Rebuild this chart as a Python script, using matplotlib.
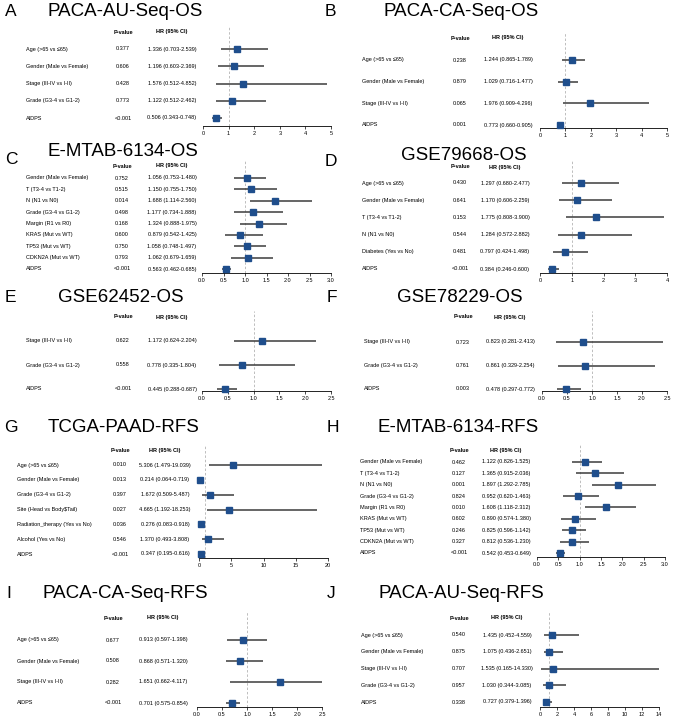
import numpy as np
import matplotlib.pyplot as plt

plt.rcParams['font.family'] = ['Liberation Sans', 'DejaVu Sans']

W, H = 673, 718

# ---- data: one block per cohort ----
a_labels = ['Age (>65 vs ≤65)', 'Gender (Male vs Female)', 'Stage (III-IV vs I-II)',
            'Grade (G3-4 vs G1-2)', 'AIDPS']
a_p = ['0.377', '0.606', '0.428', '0.773', '<0.001']
a_hr = [1.336, 1.196, 1.576, 1.122, 0.506]
a_lo = [0.703, 0.603, 0.512, 0.512, 0.343]
a_hi = [2.539, 2.369, 4.852, 2.462, 0.748]

b_labels = ['Age (>65 vs ≤65)', 'Gender (Male vs Female)', 'Stage (III-IV vs I-II)', 'AIDPS']
b_p = ['0.238', '0.879', '0.065', '0.001']
b_hr = [1.244, 1.029, 1.976, 0.773]
b_lo = [0.865, 0.716, 0.909, 0.660]
b_hi = [1.789, 1.477, 4.296, 0.905]

c_labels = ['Gender (Male vs Female)', 'T (T3-4 vs T1-2)', 'N (N1 vs N0)', 'Grade (G3-4 vs G1-2)',
            'Margin (R1 vs R0)', 'KRAS (Mut vs WT)', 'TP53 (Mut vs WT)', 'CDKN2A (Mut vs WT)', 'AIDPS']
c_p = ['0.752', '0.515', '0.014', '0.498', '0.168', '0.600', '0.750', '0.793', '<0.001']
c_hr = [1.056, 1.150, 1.688, 1.177, 1.324, 0.879, 1.058, 1.062, 0.563]
c_lo = [0.753, 0.755, 1.114, 0.734, 0.888, 0.542, 0.748, 0.679, 0.462]
c_hi = [1.480, 1.750, 2.560, 1.888, 1.975, 1.425, 1.497, 1.659, 0.685]

d_labels = ['Age (>65 vs ≤65)', 'Gender (Male vs Female)', 'T (T3-4 vs T1-2)', 'N (N1 vs N0)',
            'Diabetes (Yes vs No)', 'AIDPS']
d_p = ['0.430', '0.641', '0.153', '0.544', '0.481', '<0.001']
d_hr = [1.297, 1.170, 1.775, 1.284, 0.797, 0.384]
d_lo = [0.680, 0.606, 0.808, 0.572, 0.424, 0.246]
d_hi = [2.477, 2.259, 3.900, 2.882, 1.498, 0.600]

e_labels = ['Stage (III-IV vs I-II)', 'Grade (G3-4 vs G1-2)', 'AIDPS']
e_p = ['0.622', '0.558', '<0.001']
e_hr = [1.172, 0.778, 0.445]
e_lo = [0.624, 0.335, 0.288]
e_hi = [2.204, 1.804, 0.687]

f_labels = ['Stage (III-IV vs I-II)', 'Grade (G3-4 vs G1-2)', 'AIDPS']
f_p = ['0.723', '0.761', '0.003']
f_hr = [0.823, 0.861, 0.478]
f_lo = [0.281, 0.329, 0.297]
f_hi = [2.413, 2.254, 0.772]

g_labels = ['Age (>65 vs ≤65)', 'Gender (Male vs Female)', 'Grade (G3-4 vs G1-2)',
            'Site (Head vs Body$Tail)', 'Radiation_therapy (Yes vs No)', 'Alcohol (Yes vs No)', 'AIDPS']
g_p = ['0.010', '0.013', '0.397', '0.027', '0.036', '0.546', '<0.001']
g_hr = [5.306, 0.214, 1.672, 4.665, 0.276, 1.370, 0.347]
g_lo = [1.479, 0.064, 0.509, 1.192, 0.083, 0.493, 0.195]
g_hi = [19.039, 0.719, 5.487, 18.253, 0.918, 3.808, 0.616]

h_labels = c_labels
h_p = ['0.462', '0.127', '0.001', '0.824', '0.010', '0.602', '0.246', '0.327', '<0.001']
h_hr = [1.122, 1.365, 1.897, 0.952, 1.608, 0.890, 0.825, 0.812, 0.542]
h_lo = [0.826, 0.915, 1.292, 0.620, 1.118, 0.574, 0.596, 0.536, 0.453]
h_hi = [1.525, 2.036, 2.785, 1.463, 2.312, 1.380, 1.142, 1.230, 0.649]

i_labels = ['Age (>65 vs ≤65)', 'Gender (Male vs Female)', 'Stage (III-IV vs I-II)', 'AIDPS']
i_p = ['0.677', '0.508', '0.282', '<0.001']
i_hr = [0.913, 0.868, 1.651, 0.701]
i_lo = [0.597, 0.571, 0.662, 0.575]
i_hi = [1.398, 1.320, 4.117, 0.854]

j_labels = a_labels
j_p = ['0.540', '0.875', '0.707', '0.957', '0.338']
j_hr = [1.435, 1.075, 1.535, 1.030, 0.727]
j_lo = [0.452, 0.436, 0.165, 0.344, 0.379]
j_hi = [4.559, 2.651, 14.330, 3.085, 1.396]

BLUE = '#1f4e8c'
LINE = '#3c3c3c'
SMALL = 4.0

fig = plt.figure(figsize=(W / 100, H / 100), dpi=100)


def fx(px):
    return px / W


def fy(py):
    return 1 - py / H


# geo: letter xy, title xy, label/p/hr columns, header y, first/last row y, axis y, axis x0/x1 (pixels)
def forest(letter, title, labels, pv, hr, lo, hi, ticks, fmt, geo):
    (lx, ly), (tx, ty) = geo['letter'], geo['title']
    fig.text(fx(lx), fy(ly), letter, fontsize=12.5, ha='left', va='center')
    fig.text(fx(tx), fy(ty), title, fontsize=13.5, ha='center', va='center')

    top = geo['head'] - 6
    ax = fig.add_axes([fx(geo['x0']), fy(geo['axis']),
                       (geo['x1'] - geo['x0']) / W, (geo['axis'] - top) / H])
    ax.set_xlim(ticks[0], ticks[-1])
    ax.set_ylim(geo['axis'], top)
    rows = np.linspace(geo['r0'], geo['r1'], len(labels))

    ax.axvline(1, color='#bdbdbd', lw=0.7, ls=(0, (2.5, 2)), zorder=1)
    ax.hlines(rows, lo, hi, color=LINE, lw=1.1, zorder=2)
    ax.plot(hr, rows, 's', ms=4.6, color=BLUE, clip_on=False, zorder=3)

    for s in ['top', 'right', 'left']:
        ax.spines[s].set_visible(False)
    ax.spines['bottom'].set_linewidth(0.6)
    ax.set_yticks([])
    ax.set_xticks(ticks)
    ax.set_xticklabels([fmt.format(t) for t in ticks])
    ax.tick_params(axis='x', labelsize=SMALL, length=2.2, width=0.5, pad=1.2)
    ax.patch.set_visible(False)

    fig.text(fx(geo['px']), fy(geo['head']), 'P-value', fontsize=SMALL, fontweight='bold',
             ha='center', va='center')
    fig.text(fx(geo['hx']), fy(geo['head']), 'HR (95% CI)', fontsize=SMALL, fontweight='bold',
             ha='center', va='center')
    for y, lab, p, h, l, u in zip(rows, labels, pv, hr, lo, hi):
        fig.text(fx(geo['lx']), fy(y), lab, fontsize=SMALL, ha='left', va='center')
        fig.text(fx(geo['px']), fy(y), p, fontsize=SMALL, ha='center', va='center')
        fig.text(fx(geo['hx']), fy(y), f'{h:.3f} ({l:.3f}-{u:.3f})', fontsize=SMALL,
                 ha='center', va='center')


forest('A', 'PACA-AU-Seq-OS', a_labels, a_p, a_hr, a_lo, a_hi, [0, 1, 2, 3, 4, 5], '{:.0f}',
       dict(letter=(5, 11), title=(125, 11), lx=26, px=123, hx=172, head=32,
            r0=49, r1=118, axis=126, x0=203, x1=331))
forest('B', 'PACA-CA-Seq-OS', b_labels, b_p, b_hr, b_lo, b_hi, [0, 1, 2, 3, 4, 5], '{:.0f}',
       dict(letter=(325, 11), title=(461, 12), lx=362, px=460, hx=508, head=38,
            r0=60, r1=125, axis=128, x0=540, x1=667))
forest('C', 'E-MTAB-6134-OS', c_labels, c_p, c_hr, c_lo, c_hi,
       [0, 0.5, 1, 1.5, 2, 2.5, 3], '{:.1f}',
       dict(letter=(5, 159), title=(123, 152), lx=26, px=122, hx=172, head=166,
            r0=178, r1=269, axis=273, x0=202, x1=331))
forest('D', 'GSE79668-OS', d_labels, d_p, d_hr, d_lo, d_hi, [0, 1, 2, 3, 4], '{:.0f}',
       dict(letter=(325, 161), title=(464, 155), lx=362, px=460, hx=505, head=167,
            r0=183, r1=269, axis=273, x0=540, x1=667))
forest('E', 'GSE62452-OS', e_labels, e_p, e_hr, e_lo, e_hi, [0, 0.5, 1, 1.5, 2, 2.5], '{:.1f}',
       dict(letter=(5, 297), title=(121, 297), lx=26, px=123, hx=172, head=317,
            r0=341, r1=389, axis=391, x0=202, x1=331))
forest('F', 'GSE78229-OS', f_labels, f_p, f_hr, f_lo, f_hi, [0, 0.5, 1, 1.5, 2, 2.5], '{:.1f}',
       dict(letter=(327, 297), title=(460, 298), lx=364, px=463, hx=510, head=317,
            r0=342, r1=389, axis=391, x0=542, x1=667))
forest('G', 'TCGA-PAAD-RFS', g_labels, g_p, g_hr, g_lo, g_hi, [0, 5, 10, 15, 20], '{:.0f}',
       dict(letter=(4, 428), title=(124, 427), lx=17, px=120, hx=165, head=451,
            r0=465, r1=554, axis=558, x0=199, x1=328))
forest('H', 'E-MTAB-6134-RFS', h_labels, h_p, h_hr, h_lo, h_hi,
       [0, 0.5, 1, 1.5, 2, 2.5, 3], '{:.1f}',
       dict(letter=(327, 428), title=(458, 427), lx=360, px=459, hx=506, head=451,
            r0=462, r1=553, axis=557, x0=537, x1=665))
forest('I', 'PACA-CA-Seq-RFS', i_labels, i_p, i_hr, i_lo, i_hi, [0, 0.5, 1, 1.5, 2, 2.5], '{:.1f}',
       dict(letter=(6, 593), title=(125, 593), lx=17, px=113, hx=163, head=618,
            r0=640, r1=703, axis=707, x0=197, x1=322))
forest('J', 'PACA-AU-Seq-RFS', j_labels, j_p, j_hr, j_lo, j_hi, list(range(0, 15, 2)), '{:.0f}',
       dict(letter=(327, 593), title=(461, 593), lx=361, px=459, hx=507, head=618,
            r0=635, r1=702, axis=707, x0=540, x1=659))

fig.savefig('out.png', dpi=100)
